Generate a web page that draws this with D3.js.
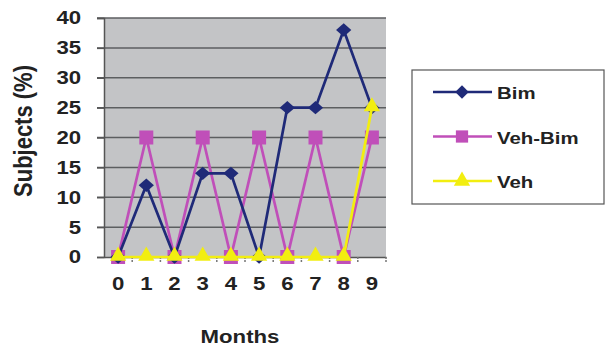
<!DOCTYPE html>
<html>
<head>
<meta charset="utf-8">
<script src="https://cdn.jsdelivr.net/npm/d3@7"></script>
<style>
  body { margin: 0; background: #fff; }
  text { font-family: "Liberation Sans", Arial, sans-serif; font-weight: bold; fill: #222; }
</style>
</head>
<body>
<div id="chart"></div>
<script>
(function() {
  // data
  var months = ["0", "1", "2", "3", "4", "5", "6", "7", "8", "9"];
  var bim = [0, 12, 0, 14, 14, 0, 25, 25, 38, 25];
  var vehBim = [0, 20, 0, 20, 0, 20, 0, 20, 0, 20];
  var veh = [0, 0, 0, 0, 0, 0, 0, 0, 0, 25];
  var yTicks = [0, 5, 10, 15, 20, 25, 30, 35, 40];
  var seriesNames = ["Bim", "Veh-Bim", "Veh"];

  var margin = { top: 18, left: 104, right: 219, bottom: 90 },
      width = 605 - margin.left - margin.right,
      height = 347 - margin.top - margin.bottom;

  var svg = d3.select("#chart")
      .append("svg")
      .attr("width", 605)
      .attr("height", 347);

  var g = svg.append("g")
      .attr("transform", "translate(" + margin.left + "," + margin.top + ")");

  var xPositionScale = d3.scaleBand()
    .domain(months)
    .range([0, width])
    .padding(0);

  var yPositionScale = d3.scaleLinear()
    .domain([0, 40])
    .range([height, 0]);

  var xc = function(m) { return xPositionScale(m) + xPositionScale.bandwidth() / 2; };

  // plot background
  g.append("rect")
    .attr("width", width)
    .attr("height", height)
    .attr("fill", "#c3c4c6");

  // gridlines
  g.selectAll(".grid")
    .data(yTicks.filter(function(d) { return d > 0; }))
    .enter().append("line")
    .attr("x1", -7)
    .attr("x2", width)
    .attr("y1", function(d) { return yPositionScale(d); })
    .attr("y2", function(d) { return yPositionScale(d); })
    .attr("stroke", "#5c5e60")
    .attr("stroke-width", 1.5);

  // y axis
  var yAxis = d3.axisLeft(yPositionScale)
    .tickValues(yTicks)
    .tickSize(7)
    .tickPadding(12);
  var yg = g.append("g").attr("class", "axis y-axis").call(yAxis);
  yg.select(".domain").attr("stroke", "#555").attr("stroke-width", 1.5);
  yg.selectAll(".tick line").attr("stroke", "#555").attr("stroke-width", 1.5);
  yg.selectAll(".tick text")
    .attr("font-size", 18.5)
    .attr("font-family", null)
    .attr("fill", "#222")
    .attr("transform", "scale(1.2,1)");

  // x axis
  var xAxis = d3.axisBottom(xPositionScale).tickSize(0).tickPadding(20);
  var xg = g.append("g")
    .attr("class", "axis x-axis")
    .attr("transform", "translate(0," + height + ")")
    .call(xAxis);
  xg.select(".domain").attr("stroke", "#555").attr("stroke-width", 1.5);
  xg.selectAll(".tick text")
    .attr("font-size", 18.5)
    .attr("font-family", null)
    .attr("fill", "#222")
    .attr("transform", "scale(1.2,1)");

  // small ticks between categories
  g.selectAll(".xtick")
    .data(months.slice(1).concat(["end"]))
    .enter().append("line")
    .attr("x1", function(d) { return d === "end" ? width : xPositionScale(d); })
    .attr("x2", function(d) { return d === "end" ? width : xPositionScale(d); })
    .attr("y1", height)
    .attr("y2", height + 6)
    .attr("stroke", "#777")
    .attr("stroke-width", 1.5)
    .attr("stroke-dasharray", "2,1");

  var line = d3.line()
    .x(function(d, i) { return xc(months[i]); })
    .y(function(d) { return yPositionScale(d); });

  // Veh-Bim
  g.append("path")
    .datum(vehBim)
    .attr("d", line)
    .attr("fill", "none")
    .attr("stroke", "#c04fb9")
    .attr("stroke-width", 2.7);
  g.selectAll(".sq")
    .data(vehBim)
    .enter().append("rect")
    .attr("x", function(d, i) { return xc(months[i]) - 7; })
    .attr("y", function(d) { return yPositionScale(d) - 7; })
    .attr("width", 14)
    .attr("height", 14)
    .attr("fill", "#c04fb9");

  // Bim
  g.append("path")
    .datum(bim)
    .attr("d", line)
    .attr("fill", "none")
    .attr("stroke", "#1f2a78")
    .attr("stroke-width", 2.7);
  g.selectAll(".dia")
    .data(bim)
    .enter().append("path")
    .attr("d", d3.symbol().type(d3.symbolDiamond2).size(135))
    .attr("transform", function(d, i) {
      return "translate(" + xc(months[i]) + "," + yPositionScale(d) + ") scale(1.05,0.92)";
    })
    .attr("fill", "#1f2a78");

  // Veh
  g.append("path")
    .datum(veh)
    .attr("d", line)
    .attr("fill", "none")
    .attr("stroke", "#f2ee10")
    .attr("stroke-width", 2.7);
  g.selectAll(".tri")
    .data(veh)
    .enter().append("path")
    .attr("d", d3.symbol().type(d3.symbolTriangle).size(115))
    .attr("transform", function(d, i) {
      return "translate(" + xc(months[i]) + "," + (yPositionScale(d) - 1) + ")";
    })
    .attr("fill", "#f2ee10");

  // axis titles
  svg.append("text")
    .attr("transform", "translate(240,343) scale(1.2,1)")
    .attr("text-anchor", "middle")
    .attr("font-size", 18.5)
    .text("Months");

  svg.append("text")
    .attr("transform", "translate(32,131) scale(1.2,1) rotate(-90)")
    .attr("text-anchor", "middle")
    .attr("font-size", 22)
    .text("Subjects (%)");

  // legend
  var colors = ["#1f2a78", "#c04fb9", "#f2ee10"];
  var legend = svg.append("g").attr("transform", "translate(412,70)");
  legend.append("rect")
    .attr("width", 192)
    .attr("height", 134)
    .attr("fill", "#fff")
    .attr("stroke", "#555")
    .attr("stroke-width", 1.2);

  var items = legend.selectAll(".item")
    .data(seriesNames)
    .enter().append("g")
    .attr("transform", function(d, i) { return "translate(0," + (22 + i * 44.5) + ")"; });

  items.append("line")
    .attr("x1", 21).attr("x2", 80)
    .attr("stroke", function(d, i) { return colors[i]; })
    .attr("stroke-width", 2.5);

  items.append("path")
    .attr("d", function(d, i) {
      var t = [d3.symbolDiamond2, d3.symbolSquare, d3.symbolTriangle][i];
      return d3.symbol().type(t).size(i === 1 ? 150 : 115)();
    })
    .attr("transform", "translate(50,0)")
    .attr("fill", function(d, i) { return colors[i]; });

  items.append("text")
    .attr("transform", "translate(85,7) scale(1.2,1)")
    .attr("font-size", 17)
    .text(function(d) { return d; });
})();
</script>
</body>
</html>
